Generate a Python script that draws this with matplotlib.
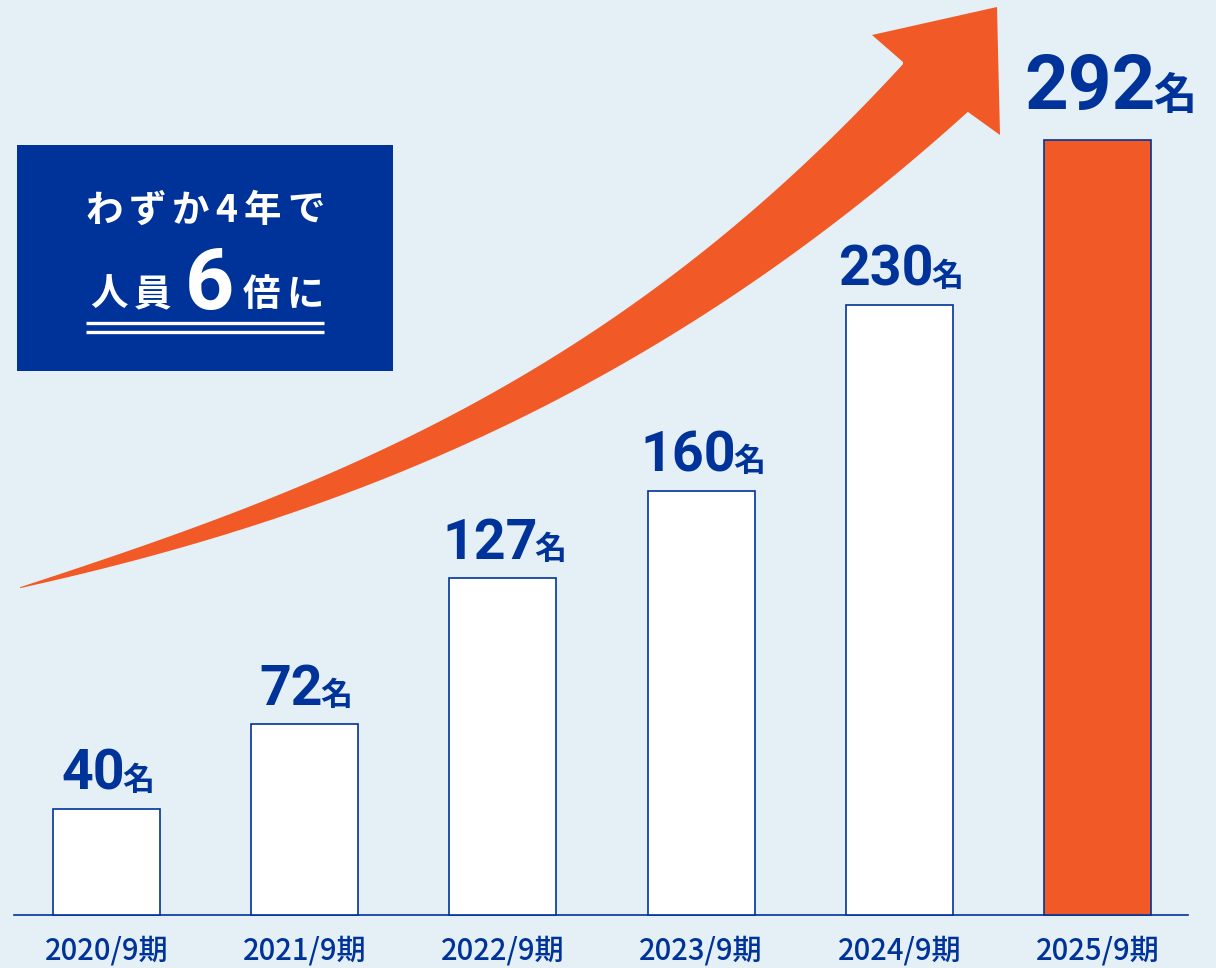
import numpy as np
import matplotlib.pyplot as plt
from matplotlib.patches import Rectangle, Polygon
from matplotlib.offsetbox import TextArea, HPacker, AnnotationBbox

# data
periods = ['2020/9期', '2021/9期', '2022/9期', '2023/9期', '2024/9期', '2025/9期']
headcount = [40, 72, 127, 160, 230, 292]
unit = '名'
title_line1 = 'わずか4年で'
title_line2 = ['人員', '6', '倍に']

W, H = 1216, 968
BG = '#e4f0f5'
NAVY = '#003399'
ORANGE = '#f15a27'
JP = ['Noto Sans CJK JP', 'DejaVu Sans']
NUM = ['Roboto', 'DejaVu Sans']

fig = plt.figure(figsize=(W / 100, H / 100), dpi=100)
fig.patch.set_facecolor(BG)
renderer = fig.canvas.get_renderer()

# pixel layout of the bar area
x0_px, step_px = 106.5, 198.2
base_px = 915
px_per_unit = 2.653

# decorations (arrow, box) in pixel coordinates
ov = fig.add_axes([0, 0, 1, 1], zorder=0)
ov.set_xlim(0, W)
ov.set_ylim(H, 0)
ov.axis('off')

ax = fig.add_axes([0, (H - base_px) / H, 1, base_px / H], zorder=1)
ax.patch.set_alpha(0)
ax.set_xlim(-x0_px / step_px, (W - x0_px) / step_px)
ax.set_ylim(0, base_px / px_per_unit)

x = np.arange(len(periods))
colors = ['white'] * (len(periods) - 1) + [ORANGE]
ax.bar(x, headcount, width=0.54, color=colors, edgecolor=NAVY,
       linewidth=1.2, zorder=3, clip_on=False)

for s in ['top', 'left', 'right']:
    ax.spines[s].set_visible(False)
ax.spines['bottom'].set_color(NAVY)
ax.spines['bottom'].set_linewidth(1.2)
ax.spines['bottom'].set_bounds((14 - x0_px) / step_px, (1188 - x0_px) / step_px)
ax.set_yticks([])
ax.set_xticks(x, periods)
ax.tick_params(axis='x', length=0, pad=15, labelsize=21, labelcolor=NAVY)
for lbl in ax.get_xticklabels():
    lbl.set_fontfamily(JP)
    lbl.set_fontweight('medium')

# value labels
for i, v in enumerate(headcount):
    last = i == len(headcount) - 1
    num_ta = TextArea(str(v), textprops=dict(fontsize=55 if last else 40, fontweight='bold',
                                              color=NAVY, family=NUM))
    unit_ta = TextArea(unit, textprops=dict(fontsize=31 if last else 23, fontweight='bold',
                                            color=NAVY, family=JP))
    pack = HPacker(children=[num_ta, unit_ta], align='baseline', pad=0, sep=-2)
    ab = AnnotationBbox(pack, (i, v), xybox=(9 if last else 1, 11 if last else 6),
                        xycoords='data', boxcoords='offset points', box_alignment=(0.5, 0),
                        frameon=False, annotation_clip=False)
    ax.add_artist(ab)

# growth arrow: tapered curved body + head
up_x = [20, 200, 280, 340, 440, 500, 640, 700, 790, 850, 903]
up_y = [587, 525, 495, 470, 422, 387, 297, 253, 182, 120, 62]
lo_x = [20, 200, 280, 340, 440, 500, 640, 700, 790, 850, 920, 968]
lo_y = [588, 542, 517, 497, 457, 423, 357, 315, 262, 205, 155, 112]
pu = np.polyfit(up_x, up_y, 3)
pl = np.polyfit(lo_x, lo_y, 3)
xu = np.linspace(20, 903, 200)
xl = np.linspace(968, 20, 200)
upper = np.column_stack([xu, np.polyval(pu, xu)])
lower = np.column_stack([xl, np.polyval(pl, xl)])
head = np.array([[903, 62], [872, 35], [997, 7], [1000, 135], [968, 112]])
arrow = np.vstack([upper, head, lower])
ov.add_patch(Polygon(arrow, closed=True, facecolor=ORANGE, edgecolor='none'))


def spaced_text(xc, y, s, gap, **kw):
    # letter-spaced text centred on xc (pixel coords of the overlay)
    arts, widths = [], []
    for ch in s:
        t = ov.text(0, y, ch, ha='left', va='baseline', **kw)
        arts.append(t)
        widths.append(t.get_window_extent(renderer).width)
    total = sum(widths) + gap * (len(s) - 1)
    xx = xc - total / 2
    for t, w in zip(arts, widths):
        t.set_x(xx)
        xx += w + gap


# headline box
ov.add_patch(Rectangle((17, 145), 376, 226, facecolor=NAVY, edgecolor='none'))
box_txt = dict(fontsize=27, fontweight='bold', color='white', family=JP)
spaced_text(205, 222, title_line1, 6, **box_txt)
spaced_text(131, 306, title_line2[0], 6, **box_txt)
ov.text(209, 309, title_line2[1], ha='center', va='baseline', fontsize=62,
        fontweight='bold', color='white', family=NUM)
spaced_text(283, 306, title_line2[2], 6, **box_txt)
ov.plot([86, 324], [323, 323], color='white', lw=2.4, solid_capstyle='butt')
ov.plot([86, 324], [332, 332], color='white', lw=2.4, solid_capstyle='butt')

fig.savefig('out.png', dpi=100, facecolor=BG)
